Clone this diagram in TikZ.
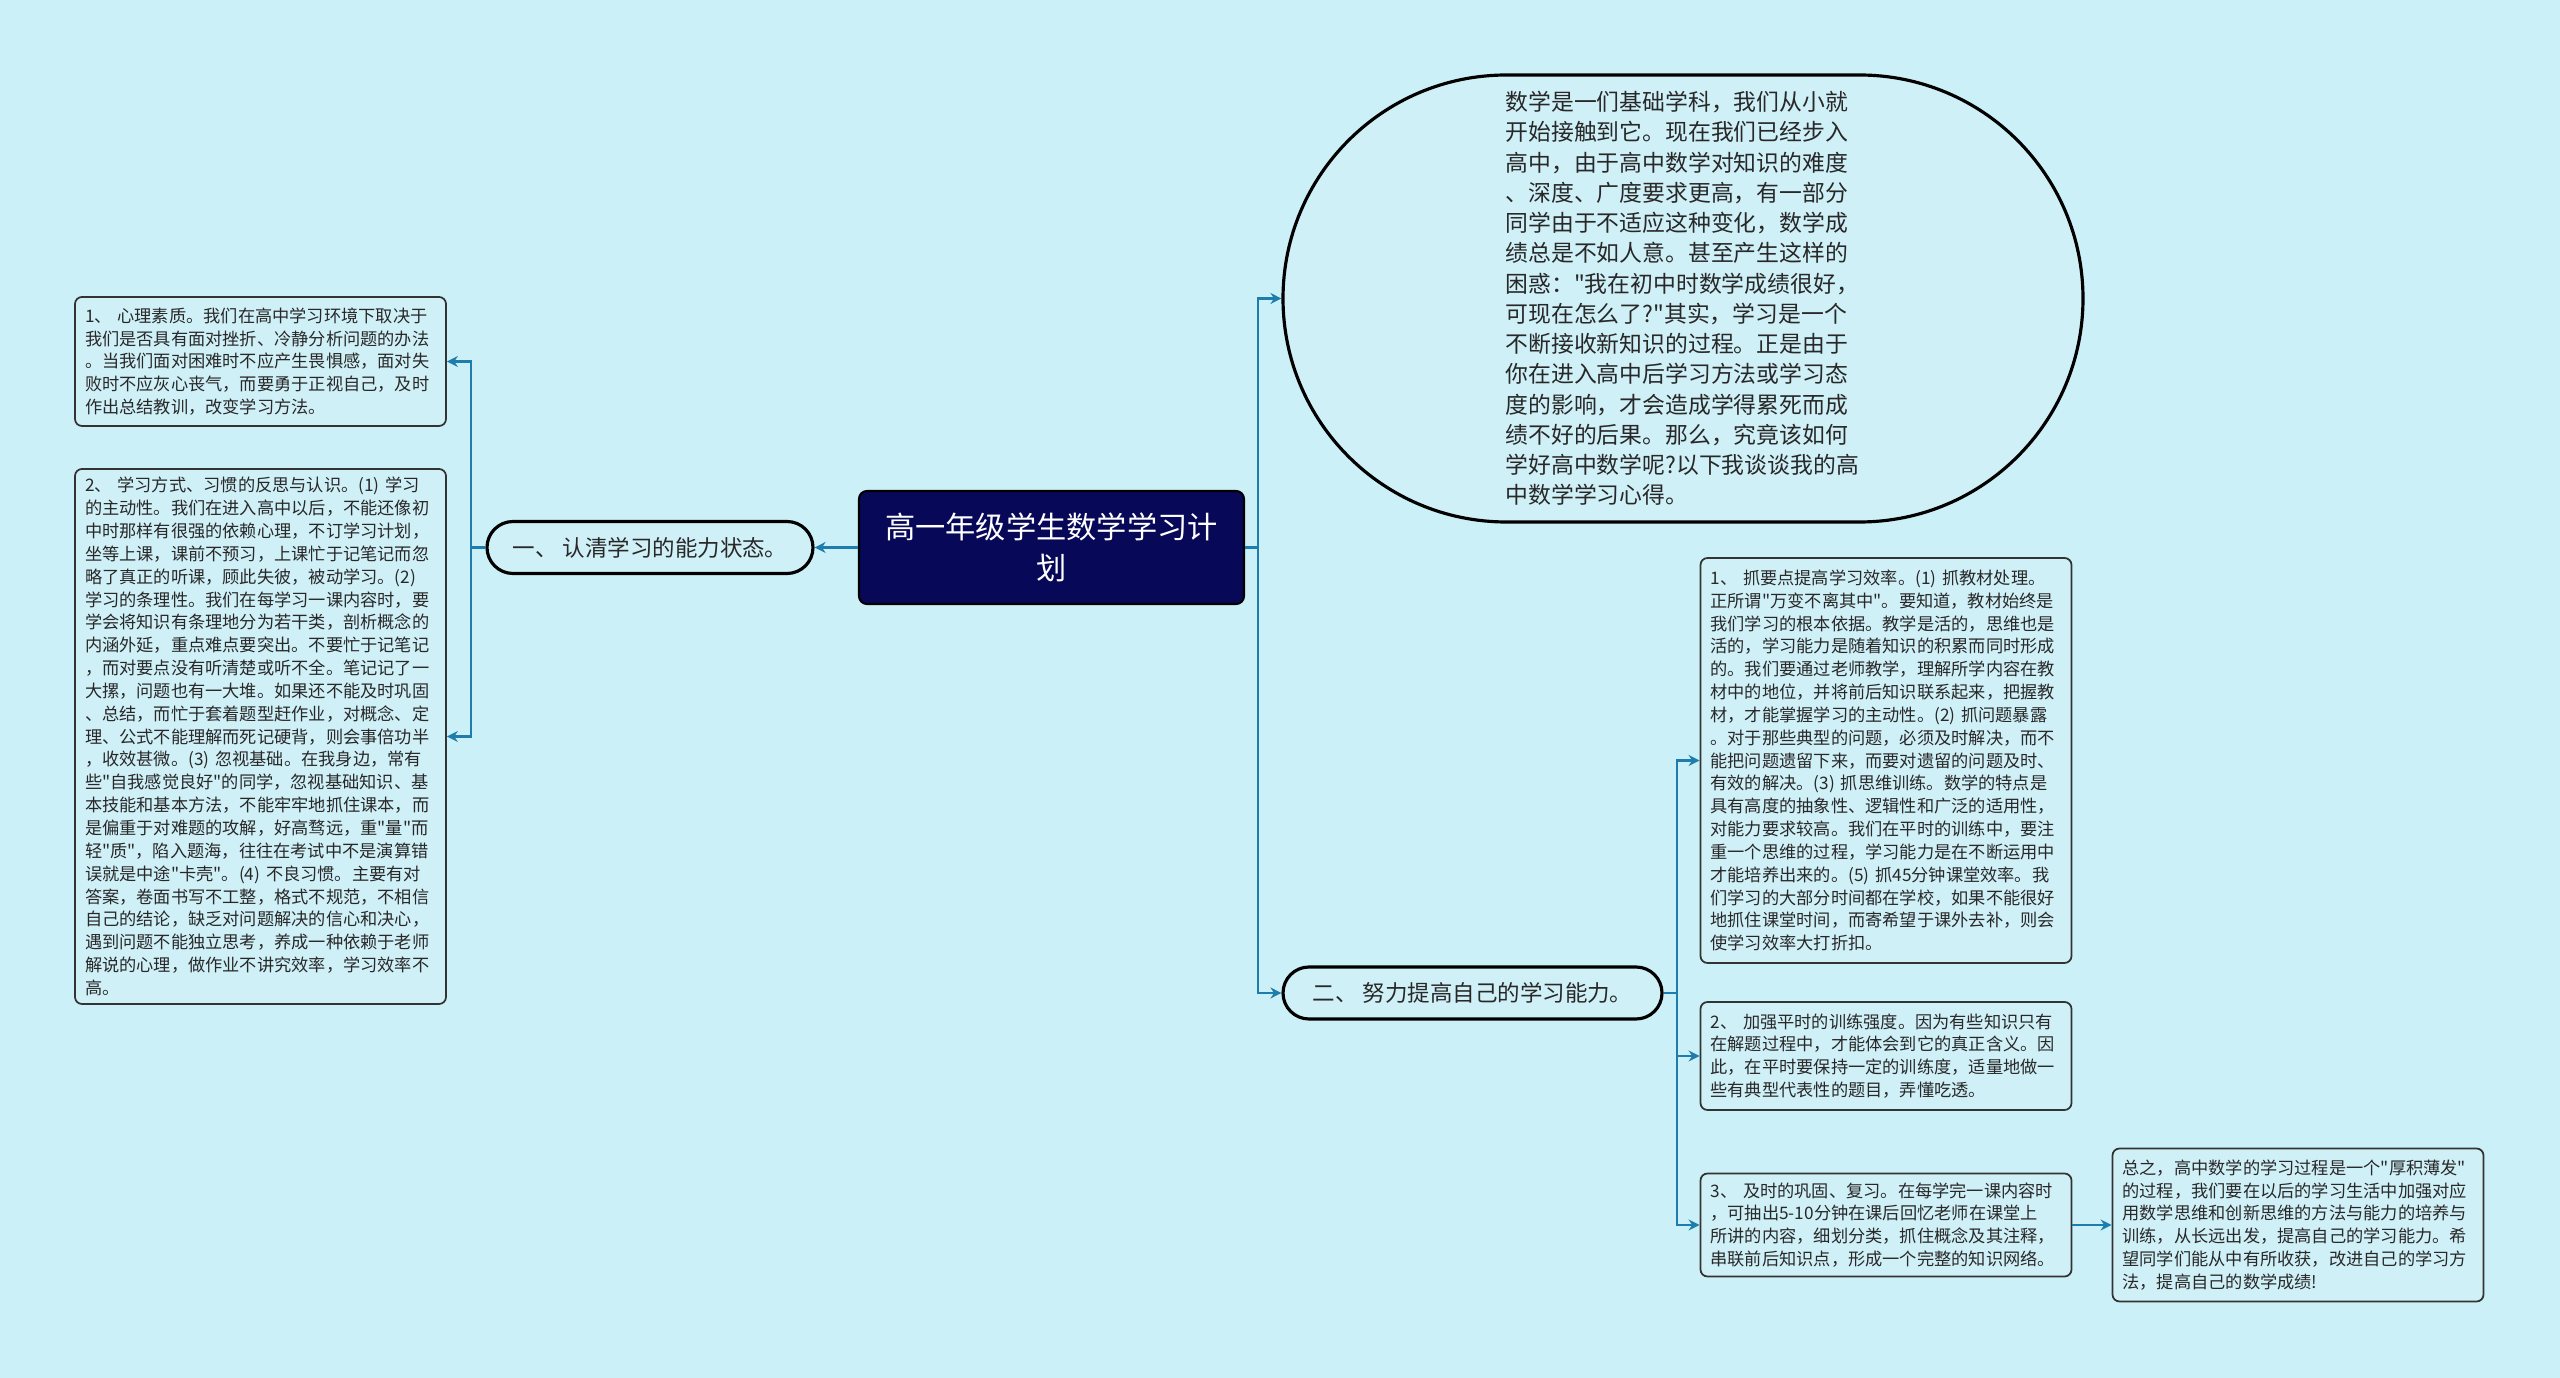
\documentclass[tikz,border=0pt]{standalone}
\usepackage{fontspec}
\setmainfont{Noto Sans CJK SC}[Ligatures=TeXOff]
\usetikzlibrary{arrows.meta}
\definecolor{bgcol}{RGB}{204,240,247}
\definecolor{boxcol}{RGB}{208,240,248}
\definecolor{navy}{RGB}{8,8,88}
\definecolor{linecol}{RGB}{30,125,172}
\definecolor{txtcol}{RGB}{40,40,40}

\begin{document}
\begin{tikzpicture}
[>={Stealth[length=1.1mm,width=1.1mm]},
titlebox/.style={draw=black,fill=navy,rounded corners=0.08cm,line width=0.6pt,text=white,align=center,minimum width=3.85cm,minimum height=1.13cm,font=\fontsize{8.6}{11.6}\selectfont},
topic/.style={draw=black,fill=boxcol,line width=0.9pt,rounded corners=0.26cm,minimum height=0.52cm,text=txtcol,font=\fontsize{6.4}{8}\selectfont},
leaf/.style={draw=black!80,fill=boxcol,line width=0.5pt,rounded corners=0.07cm,text width=3.51cm,inner xsep=0.1cm,inner ysep=0.07cm,align=left,text=txtcol,font=\fontsize{4.9}{6.5}\selectfont},
linkline/.style={draw=linecol,line width=0.6pt,->},]

%Background
\fill[bgcol] (0,0) rectangle (25.6,-13.78);
\useasboundingbox (0,0) rectangle (25.6,-13.78);

%Centre and main topics
\node (main) at (10.515,-5.475)[titlebox] {高一年级学生数学学习计\\划};
\node (b1) at (6.50,-5.475)[topic,minimum width=3.26cm] {一、 认清学习的能力状态。};
\node (b2) at (14.725,-9.93)[topic,minimum width=3.79cm] {二、 努力提高自己的学习能力。};
\node (intro) at (16.83,-2.985)[draw=black,fill=boxcol,line width=0.9pt,rounded corners=2.235cm,minimum width=8cm,minimum height=4.47cm,text width=3.55cm,align=left,text=txtcol,font=\fontsize{6.5}{8.6}\selectfont] {数学是一们基础学科，我们从小就\\
开始接触到它。现在我们已经步入\\
高中，由于高中数学对知识的难度\\
、深度、广度要求更高，有一部分\\
同学由于不适应这种变化，数学成\\
绩总是不如人意。甚至产生这样的\\
困惑："我在初中时数学成绩很好，\\
可现在怎么了?"其实，学习是一个\\
不断接收新知识的过程。正是由于\\
你在进入高中后学习方法或学习态\\
度的影响，才会造成学得累死而成\\
绩不好的后果。那么，究竟该如何\\
学好高中数学呢?以下我谈谈我的高\\
中数学学习心得。};

%Left leaves
\node (l1) at (2.605,-3.615)[leaf,minimum height=1.29cm] {1、~心理素质。我们在高中学习环境下取决于\\
我们是否具有面对挫折、冷静分析问题的办法\\
。当我们面对困难时不应产生畏惧感，面对失\\
败时不应灰心丧气，而要勇于正视自己，及时\\
作出总结教训，改变学习方法。};
\node (l2) at (2.605,-7.365)[leaf,minimum height=5.35cm] {2、~学习方式、习惯的反思与认识。(1)~学习\\
的主动性。我们在进入高中以后，不能还像初\\
中时那样有很强的依赖心理，不订学习计划，\\
坐等上课，课前不预习，上课忙于记笔记而忽\\
略了真正的听课，顾此失彼，被动学习。(2)\\
学习的条理性。我们在每学习一课内容时，要\\
学会将知识有条理地分为若干类，剖析概念的\\
内涵外延，重点难点要突出。不要忙于记笔记\\
，而对要点没有听清楚或听不全。笔记记了一\\
大摞，问题也有一大堆。如果还不能及时巩固\\
、总结，而忙于套着题型赶作业，对概念、定\\
理、公式不能理解而死记硬背，则会事倍功半\\
，收效甚微。(3)~忽视基础。在我身边，常有\\
些"自我感觉良好"的同学，忽视基础知识、基\\
本技能和基本方法，不能牢牢地抓住课本，而\\
是偏重于对难题的攻解，好高骛远，重"量"而\\
轻"质"，陷入题海，往往在考试中不是演算错\\
误就是中途"卡壳"。(4)~不良习惯。主要有对\\
答案，卷面书写不工整，格式不规范，不相信\\
自己的结论，缺乏对问题解决的信心和决心，\\
遇到问题不能独立思考，养成一种依赖于老师\\
解说的心理，做作业不讲究效率，学习效率不\\
高。};

%Right leaves
\node (r1) at (18.86,-7.605)[leaf,minimum height=4.05cm] {1、~抓要点提高学习效率。(1)~抓教材处理。\\
正所谓"万变不离其中"。要知道，教材始终是\\
我们学习的根本依据。教学是活的，思维也是\\
活的，学习能力是随着知识的积累而同时形成\\
的。我们要通过老师教学，理解所学内容在教\\
材中的地位，并将前后知识联系起来，把握教\\
材，才能掌握学习的主动性。(2)~抓问题暴露\\
。对于那些典型的问题，必须及时解决，而不\\
能把问题遗留下来，而要对遗留的问题及时、\\
有效的解决。(3)~抓思维训练。数学的特点是\\
具有高度的抽象性、逻辑性和广泛的适用性，\\
对能力要求较高。我们在平时的训练中，要注\\
重一个思维的过程，学习能力是在不断运用中\\
才能培养出来的。(5)~抓45分钟课堂效率。我\\
们学习的大部分时间都在学校，如果不能很好\\
地抓住课堂时间，而寄希望于课外去补，则会\\
使学习效率大打折扣。};
\node (r2) at (18.86,-10.56)[leaf,minimum height=1.08cm] {2、~加强平时的训练强度。因为有些知识只有\\
在解题过程中，才能体会到它的真正含义。因\\
此，在平时要保持一定的训练度，适量地做一\\
些有典型代表性的题目，弄懂吃透。};
\node (r3) at (18.86,-12.25)[leaf,minimum height=1.03cm] {3、~及时的巩固、复习。在每学完一课内容时\\
，可抽出5-10分钟在课后回忆老师在课堂上\\
所讲的内容，细划分类，抓住概念及其注释，\\
串联前后知识点，形成一个完整的知识网络。};
\node (r4) at (22.98,-12.25)[leaf,minimum height=1.53cm] {总之，高中数学的学习过程是一个"厚积薄发"\\
的过程，我们要在以后的学习生活中加强对应\\
用数学思维和创新思维的方法与能力的培养与\\
训练，从长远出发，提高自己的学习能力。希\\
望同学们能从中有所收获，改进自己的学习方\\
法，提高自己的数学成绩!};

%Connectors
\draw[linkline] (main.west) -- (b1.east);
\draw[linkline] (b1.west) -- +(-0.14,0) |- (l1.east);
\draw[linkline] (b1.west) -- +(-0.14,0) |- (l2.east);
\draw[linkline] (main.east) -- +(0.13,0) |- (intro.west);
\draw[linkline] (main.east) -- +(0.13,0) |- (b2.west);
\draw[linkline] (b2.east) -- +(0.13,0) |- (r1.west);
\draw[linkline] (b2.east) -- +(0.13,0) |- (r2.west);
\draw[linkline] (b2.east) -- +(0.13,0) |- (r3.west);
\draw[linkline] (r3.east) -- (r4.west);

\end{tikzpicture}
\end{document}
